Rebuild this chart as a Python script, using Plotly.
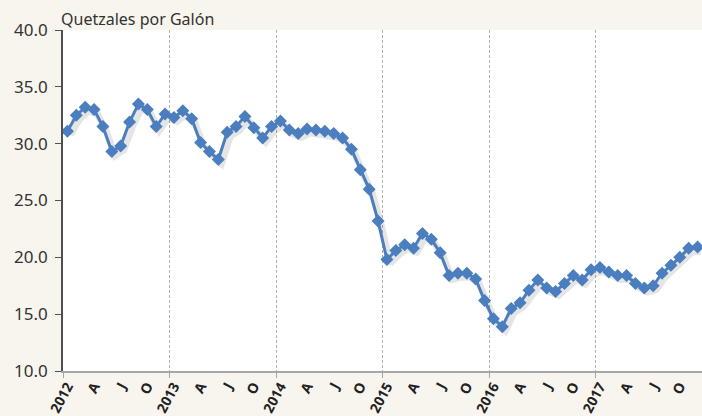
import plotly.graph_objects as go

# Monthly price, Jan 2012 - Dec 2017 (quetzales per gallon)
years = ['2012', '2013', '2014', '2015', '2016', '2017']
month_labels = ['', 'A', 'J', 'O']  # Jan gets the year label
prices = [
    31.1, 32.5, 33.2, 33.0, 31.5, 29.3, 29.8, 31.9, 33.5, 33.0, 31.5, 32.6,
    32.3, 32.9, 32.2, 30.1, 29.3, 28.6, 31.0, 31.5, 32.4, 31.4, 30.5, 31.5,
    32.0, 31.2, 30.9, 31.3, 31.2, 31.1, 30.9, 30.5, 29.5, 27.7, 26.0, 23.2,
    19.8, 20.6, 21.1, 20.8, 22.1, 21.6, 20.4, 18.4, 18.6, 18.6, 18.1, 16.2,
    14.6, 13.9, 15.5, 16.0, 17.1, 18.0, 17.3, 17.0, 17.7, 18.4, 18.0, 18.9,
    19.1, 18.7, 18.4, 18.4, 17.7, 17.3, 17.5, 18.6, 19.3, 20.0, 20.8, 20.9,
]

x = list(range(len(prices)))

tickvals = []
ticktext = []
for i, yr in enumerate(years):
    for j, m in enumerate(month_labels):
        tickvals.append(i * 12 + j * 3)
        ticktext.append(yr if j == 0 else m)

fig = go.Figure()

# soft drop shadow under the line
fig.add_trace(go.Scatter(
    x=[v + 0.35 for v in x], y=[p - 0.35 for p in prices],
    mode='lines', line=dict(color='rgba(0,0,0,0.10)', width=7),
    hoverinfo='skip', showlegend=False,
))

fig.add_trace(go.Scatter(
    x=x, y=prices, mode='lines+markers',
    line=dict(color='#4A7EBF', width=3),
    marker=dict(symbol='diamond', size=10, color='#4A7EBF'),
    showlegend=False,
))

fig.update_layout(
    width=702, height=416,
    margin=dict(l=63, r=0, t=30, b=45),
    paper_bgcolor='#F8F5EF',
    plot_bgcolor='#FFFFFF',
    font=dict(family='Noto Sans', color='#333333', size=15),
    annotations=[dict(
        text='Quetzales por Galón', xref='paper', yref='paper',
        x=0, y=1.0, xanchor='left', yanchor='bottom', showarrow=False,
        font=dict(size=16, color='#333333'), yshift=-2, xshift=-4,
    )],
)

fig.update_xaxes(
    range=[-0.5, len(prices) - 0.5],
    tickvals=tickvals, ticktext=ticktext, tickangle=-62,
    tickfont=dict(size=14, family='Noto Sans', color='#222222', weight='bold'),
    showgrid=False, zeroline=False,
    showline=True, linecolor='#A6A6A6', linewidth=1.5,
    ticks='',
    minor=dict(tick0=-0.5, dtick=12, showgrid=True, gridcolor='#B0B0B0',
               griddash='3px,2px', gridwidth=1, ticks='outside', ticklen=5,
               tickcolor='#A6A6A6'),
)

fig.update_yaxes(
    range=[10, 40], dtick=5, tickformat='.1f',
    showgrid=False, zeroline=False,
    showline=True, linecolor='#505050', linewidth=1.5,
    ticks='outside', ticklen=6, tickcolor='#505050',
    tickfont=dict(size=17), ticklabelstandoff=4,
)

fig.write_html('out.html', config={'displayModeBar': False},
               post_script="document.body.style.margin='0px';")
